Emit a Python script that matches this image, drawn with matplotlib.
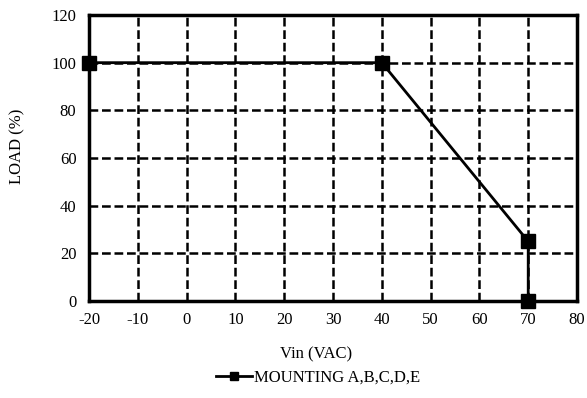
import matplotlib
matplotlib.use('Agg')
import matplotlib.pyplot as plt

plt.rcParams['font.family'] = ['Liberation Serif', 'DejaVu Serif']
plt.rcParams['axes.unicode_minus'] = False

vin = [-20, 40, 70, 70]
load = [100, 100, 25, 0]
x_ticks = [-20, -10, 0, 10, 20, 30, 40, 50, 60, 70, 80]
y_ticks = [0, 20, 40, 60, 80, 100, 120]

fig = plt.figure(figsize=(5.87, 3.98), dpi=100)
ax = fig.add_axes([0.1516, 0.2437, 0.8314, 0.7186])

ax.plot(vin, load, color='black', linewidth=2, marker='s', markersize=10,
        clip_on=False, zorder=5, label='MOUNTING A,B,C,D,E')

ax.set_xlim(-20, 80)
ax.set_ylim(0, 120)
ax.set_xticks(x_ticks)
ax.set_yticks(y_ticks)
ax.tick_params(length=0, labelsize=12)
ax.tick_params(axis='x', pad=8)
ax.tick_params(axis='y', pad=9)
ax.grid(True, color='black', linestyle=(0, (3.5, 1.5)), linewidth=1.8)
for s in ax.spines.values():
    s.set_linewidth(2.5)

ax.set_xlabel('Vin (VAC)', fontsize=12, va='center')
ax.xaxis.set_label_coords(0.465, -0.185)
ax.set_ylabel('LOAD (%)', fontsize=12, va='center')
ax.yaxis.set_label_coords(-0.146, 0.542)

fig.legend(loc='center left', bbox_to_anchor=(216 / 587, 20 / 398), frameon=False,
           fontsize=12, handlelength=2.15, handletextpad=0.15, borderpad=0,
           borderaxespad=0, markerscale=0.6)

fig.savefig('out.png', dpi=100)
